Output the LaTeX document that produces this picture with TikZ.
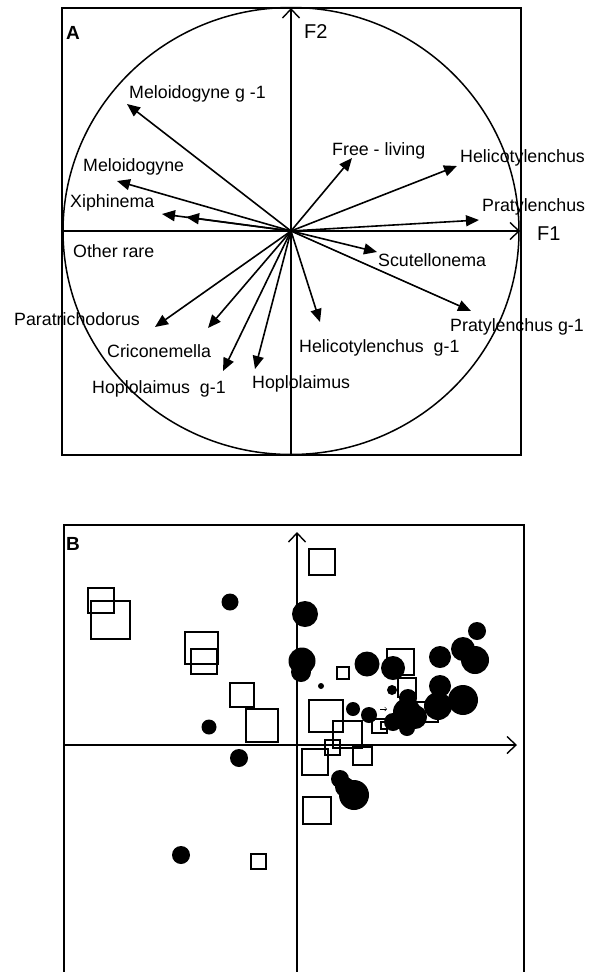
\documentclass[tikz,border=0pt]{standalone}
\usepackage{fontspec}
\setmainfont{Liberation Sans}
\usetikzlibrary{arrows.meta}
\begin{document}
\begin{tikzpicture}[x=1pt,y=-1pt,
  lbl/.style={anchor=base west,inner sep=0pt,font=\fontsize{17.8}{20}\selectfont},
  axlbl/.style={anchor=base west,inner sep=0pt,font=\fontsize{20}{22}\selectfont},
  panel/.style={anchor=base west,inner sep=0pt,font=\fontsize{19}{22}\selectfont\bfseries},
  vec/.style={line width=1.6pt,-{Triangle[length=13pt,width=11pt]}},
  axisarrow/.style={line width=1.5pt,-{Straight Barb[length=9pt,width=17pt,line width=1.4pt]}},
  frame/.style={line width=2pt},
  sq/.style={draw,line width=1.9pt},
  dot/.style={fill=black}]
\useasboundingbox (0,0) rectangle (598,972);

% ---------------- Panel A ----------------
\draw[frame] (62,8) rectangle (521,455);
\draw[line width=1.5pt] (291,231) ellipse [x radius=228pt, y radius=223.5pt];
\coordinate (O) at (291,231);
\coordinate (ybot) at (291,455);
\coordinate (ytop) at (291,8);
\coordinate (xleft) at (62,231);
\coordinate (xright) at (520,231);
\draw[axisarrow] (ybot) -- (ytop);
\draw[axisarrow] (xleft) -- (xright);
\node[axlbl] (F2) at (304,38) {F2};
\node[axlbl] (F1) at (537,240) {F1};
\node[panel] (A) at (66,39) {A};

\coordinate (tMg) at (127,104);
\coordinate (tM) at (117,181);
\coordinate (tX) at (162,214);
\coordinate (tO) at (186,217);
\coordinate (tF) at (352,158);
\coordinate (tH) at (457,166);
\coordinate (tP) at (479,220);
\coordinate (tS) at (377,252);
\coordinate (tPg) at (471,311);
\coordinate (tHg) at (320,322);
\coordinate (tHo) at (255,369);
\coordinate (tHog) at (223,371);
\coordinate (tC) at (208,328);
\coordinate (tPa) at (155,327);
\foreach \t in {tMg,tM,tX,tO,tF,tH,tP,tS,tPg,tHg,tHo,tHog,tC,tPa}
  \draw[vec] (O) -- (\t);

\node[lbl] (lMg) at (129,98) {Meloidogyne g -1};
\node[lbl] (lM) at (83,171) {Meloidogyne};
\node[lbl] (lX) at (70,207) {Xiphinema};
\node[lbl] (lO) at (73,257) {Other rare};
\node[lbl] (lF) at (332,155) {Free - living};
\node[lbl] (lH) at (460,162) {Helicotylenchus};
\node[lbl] (lP) at (482,211) {Pratylenchus};
\node[lbl] (lS) at (378,266) {Scutellonema};
\node[lbl] (lPg) at (450,331) {Pratylenchus g-1};
\node[lbl] (lHg) at (299,352) {Helicotylenchus\ \ g-1};
\node[lbl] (lHo) at (252,388) {Hoplolaimus};
\node[lbl] (lHog) at (92,393) {Hoplolaimus\ \ g-1};
\node[lbl] (lC) at (107,357) {Criconemella};
\node[lbl] (lPa) at (14,325) {Paratrichodorus};

% ---------------- Panel B ----------------
\draw[frame] (64,972) -- (64,525) -- (524,525) -- (524,972);
\coordinate (Bbot) at (297,972);
\coordinate (Btop) at (297,532);
\coordinate (Bleft) at (63,745);
\coordinate (Bright) at (517,745);
\draw[axisarrow] (Bbot) -- (Btop);
\draw[axisarrow] (Bleft) -- (Bright);
\node[panel] (B) at (66,550) {B};

% squares
\foreach \a/\b/\c/\d in {88/588/114/613, 91/601/130/639, 185/632/218/664,
  191/649/217/674, 230/683/254/707, 246/709/278/742, 309/549/335/575,
  337/667/349/679, 387/649/414/675, 398/678/416/697, 309/700/343/732,
  333/721/362/748, 325/740/340/755, 353/747/372/765, 302/749/328/775,
  372/719/387/733, 381/722/387/729, 415/702/438/722, 303/797/331/824,
  251/854/266/869}
  \draw[sq] (\a,\b) rectangle (\c,\d);

% circles
\foreach \x/\y/\r in {230/602/8.5, 209/727/7.5, 239/758/9, 305/614/13,
  302/661/13.5, 301/672/10, 321/686/3, 367/664/12.5, 393/668/12, 392/690/5,
  353/709/7, 369/715/8, 408/698/9, 407/712/14, 415/717/12, 407/728/8,
  393/722/9, 440/657/11, 477/631/9, 463/649/12, 475/660/14, 440/686/11,
  463/700/15, 438/706/14, 340/779/9, 345/787/10, 354/795/15, 181/855/9}
  \fill[dot] (\x,\y) circle [radius=\r pt];

% tiny open marker
\draw[line width=0.5pt,-{Straight Barb[length=2pt,width=4pt]}] (380,709) -- (387,709);
\end{tikzpicture}
\end{document}
